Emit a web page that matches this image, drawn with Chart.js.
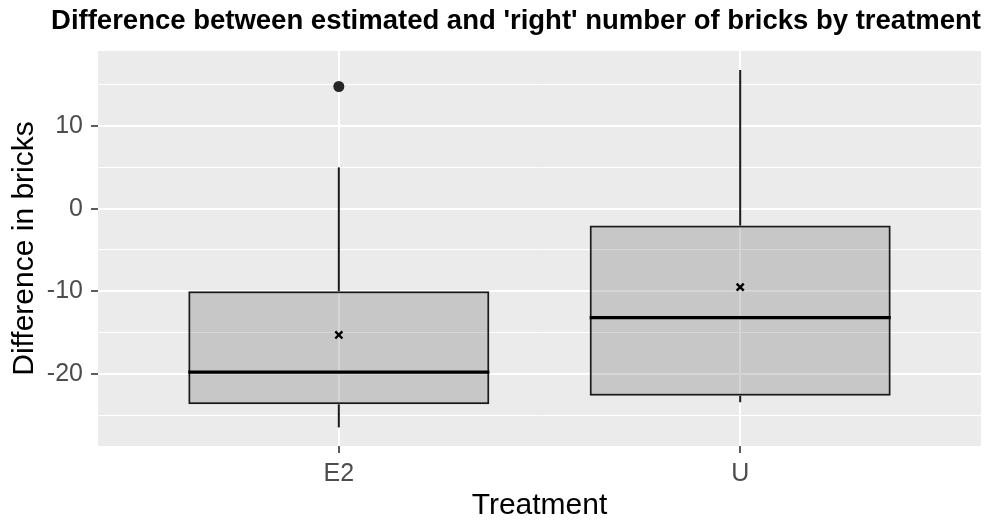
<!DOCTYPE html>
<html>
<head>
<meta charset="utf-8">
<script src="https://cdn.jsdelivr.net/npm/chart.js@4"></script>
<style>
  html, body { margin: 0; padding: 0; background: #fff; }
  canvas { display: block; }
</style>
</head>
<body>
<canvas id="c" width="989" height="522"></canvas>
<script>
// Box plot of brick-count differences by treatment, ggplot look.
var treatments = ["E2", "U"];
var whiskerLow = [-26.5, -23.45];
var q1 = [-23.7, -22.65];
var medians = [-19.8, -13.2];
var q3 = [-10, -2.05];
var whiskerHigh = [5, 16.8];
var means = [-15.3, -9.5];
var outliers = [[14.8], []];
var yTicks = [-25, -20, -15, -10, -5, 0, 5, 10, 15];

var FONT = "'Liberation Sans', Arial, sans-serif";

function pts(arr) {
  return arr.map(function (v, i) { return { x: i, y: v }; });
}
function ranges(lo, hi) {
  return lo.map(function (v, i) { return { x: i, y: [v, hi[i]] }; });
}
var outlierPts = [];
outliers.forEach(function (list, i) {
  list.forEach(function (v) { outlierPts.push({ x: i, y: v }); });
});

// grey panel behind the grid
var panelBg = {
  id: "panelBg",
  beforeDraw: function (chart) {
    var a = chart.chartArea, ctx = chart.ctx;
    ctx.save();
    ctx.fillStyle = "#EBEBEB";
    ctx.fillRect(a.left, a.top, a.right - a.left, a.bottom - a.top);
    ctx.restore();
  }
};

// median bar across each box
var medianLines = {
  id: "medianLines",
  afterDatasetsDraw: function (chart) {
    var x = chart.scales.x, y = chart.scales.y, ctx = chart.ctx;
    ctx.save();
    ctx.strokeStyle = "#000";
    ctx.lineWidth = 3.2;
    medians.forEach(function (m, i) {
      var py = y.getPixelForValue(m);
      ctx.beginPath();
      ctx.moveTo(x.getPixelForValue(i - 0.375), py);
      ctx.lineTo(x.getPixelForValue(i + 0.375), py);
      ctx.stroke();
    });
    ctx.restore();
  }
};

new Chart(document.getElementById("c"), {
  type: "bar",
  data: {
    datasets: [
      { label: "box", data: ranges(q1, q3), grouped: false, order: 3,
        barPercentage: 0.75, categoryPercentage: 1,
        backgroundColor: "rgba(127,127,127,0.33)", borderColor: "#1a1a1a",
        borderWidth: 2, borderSkipped: false },
      { label: "upper whisker", data: ranges(q3, whiskerHigh), grouped: false, order: 2,
        maxBarThickness: 2, backgroundColor: "#1a1a1a", borderWidth: 0 },
      { label: "lower whisker", data: ranges(whiskerLow, q1), grouped: false, order: 2,
        maxBarThickness: 2, backgroundColor: "#1a1a1a", borderWidth: 0 },
      { type: "scatter", label: "outliers", data: outlierPts, order: 1,
        pointStyle: "circle", pointRadius: 5.5, backgroundColor: "#262626",
        borderWidth: 0 },
      { type: "scatter", label: "mean", data: pts(means), order: 1,
        pointStyle: "crossRot", pointRadius: 5, borderColor: "#000",
        borderWidth: 2.4 }
    ]
  },
  options: {
    responsive: false,
    animation: false,
    devicePixelRatio: 1,
    layout: { padding: { left: 0, right: 8, top: 0, bottom: 0 } },
    plugins: {
      legend: { display: false },
      tooltip: { enabled: false },
      title: {
        display: true,
        text: "Difference between estimated and 'right' number of bricks by treatment",
        align: "end",
        color: "#000",
        font: { family: FONT, size: 27.5, weight: "bold", lineHeight: 1 },
        padding: { top: 8, bottom: 15.5 }
      }
    },
    scales: {
      x: {
        type: "linear",
        min: -0.6, max: 1.6,
        offset: false,
        afterBuildTicks: function (s) {
          s.ticks = treatments.map(function (t, i) { return { value: i }; });
        },
        afterFit: function (s) { s.height = 76; },
        ticks: {
          padding: 6,
          color: "#4D4D4D",
          font: { family: FONT, size: 25, lineHeight: 1.2 },
          callback: function (v) { return treatments[v]; }
        },
        grid: {
          offset: false,
          color: "#FFFFFF",
          lineWidth: 2,
          tickLength: 7,
          tickWidth: 1.6,
          tickColor: "#333333"
        },
        border: { display: false },
        title: {
          display: true, text: "Treatment", color: "#000",
          font: { family: FONT, size: 30, lineHeight: 1 },
          padding: { top: 0, bottom: 1 }
        }
      },
      y: {
        min: -28.75, max: 19.1,
        afterBuildTicks: function (s) {
          s.ticks = yTicks.map(function (v) { return { value: v }; });
        },
        afterFit: function (s) { s.width = 98; },
        ticks: {
          padding: 8,
          color: "#4D4D4D",
          font: { family: FONT, size: 25, lineHeight: 1.2 },
          callback: function (v) { return v % 10 === 0 ? String(v) : ""; }
        },
        grid: {
          color: "#FFFFFF",
          lineWidth: function (c) { return c.tick && c.tick.value % 10 === 0 ? 2 : 1; },
          tickLength: 7,
          tickWidth: 1.6,
          tickColor: function (c) {
            return c.tick && c.tick.value % 10 === 0 ? "#333333" : "rgba(0,0,0,0)";
          }
        },
        border: { display: false },
        title: {
          display: true, text: "Difference in bricks", color: "#000",
          font: { family: FONT, size: 30, lineHeight: 1 },
          padding: { top: 10, bottom: 0 }
        }
      }
    }
  },
  plugins: [panelBg, medianLines]
});
</script>
</body>
</html>
